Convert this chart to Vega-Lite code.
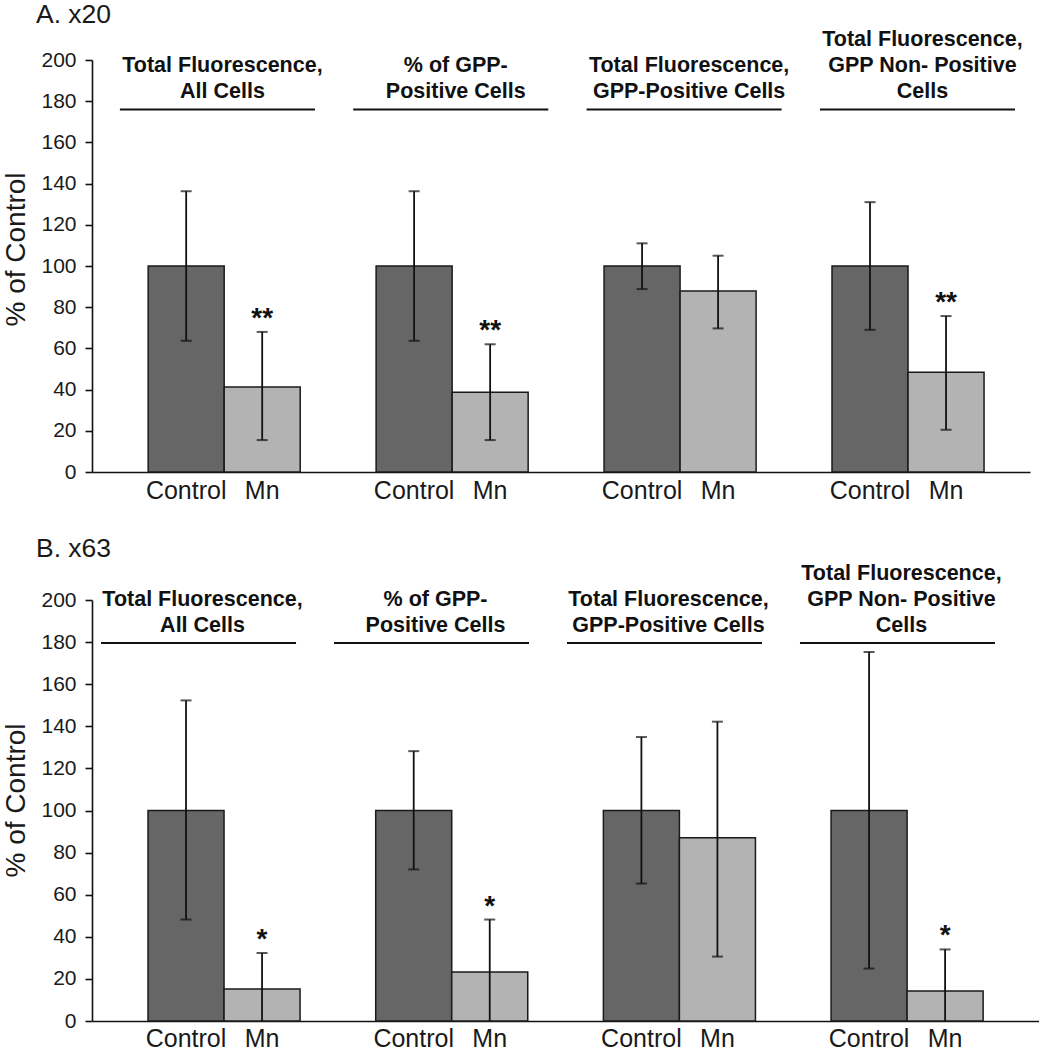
{
  "$schema": "https://vega.github.io/schema/vega-lite/v6.json",
  "background": "white",
  "padding": {"left": 2, "top": 2, "right": 0, "bottom": 0},
  "spacing": 32,
  "datasets": {
    "bars": [
      {"panel": "A", "group": "g1", "cond": "Control", "value": 100, "lo": 63.7, "hi": 136.3, "sig": ""},
      {"panel": "A", "group": "g1", "cond": "Mn", "value": 41.3, "lo": 15.5, "hi": 68, "sig": "**"},
      {"panel": "A", "group": "g2", "cond": "Control", "value": 100, "lo": 63.7, "hi": 136.3, "sig": ""},
      {"panel": "A", "group": "g2", "cond": "Mn", "value": 38.7, "lo": 15.5, "hi": 62, "sig": "**"},
      {"panel": "A", "group": "g3", "cond": "Control", "value": 100, "lo": 88.8, "hi": 111, "sig": ""},
      {"panel": "A", "group": "g3", "cond": "Mn", "value": 87.9, "lo": 69.7, "hi": 105, "sig": ""},
      {"panel": "A", "group": "g4", "cond": "Control", "value": 100, "lo": 69, "hi": 131, "sig": ""},
      {"panel": "A", "group": "g4", "cond": "Mn", "value": 48.4, "lo": 20.5, "hi": 75.7, "sig": "**"},
      {"panel": "B", "group": "g1", "cond": "Control", "value": 100, "lo": 48.2, "hi": 152.3, "sig": ""},
      {"panel": "B", "group": "g1", "cond": "Mn", "value": 15.2, "lo": 0, "hi": 32.3, "sig": "*"},
      {"panel": "B", "group": "g2", "cond": "Control", "value": 100, "lo": 72, "hi": 128.2, "sig": ""},
      {"panel": "B", "group": "g2", "cond": "Mn", "value": 23.3, "lo": 0, "hi": 48.2, "sig": "*"},
      {"panel": "B", "group": "g3", "cond": "Control", "value": 100, "lo": 65.3, "hi": 134.9, "sig": ""},
      {"panel": "B", "group": "g3", "cond": "Mn", "value": 87, "lo": 30.6, "hi": 142.2, "sig": ""},
      {"panel": "B", "group": "g4", "cond": "Control", "value": 100, "lo": 24.9, "hi": 175.3, "sig": ""},
      {"panel": "B", "group": "g4", "cond": "Mn", "value": 14.3, "lo": 0, "hi": 34, "sig": "*"}
    ],
    "headers": [
      {"group": "g1", "label": "\nTotal Fluorescence,\nAll Cells"},
      {"group": "g2", "label": "\n% of GPP-\nPositive Cells"},
      {"group": "g3", "label": "\nTotal Fluorescence,\nGPP-Positive Cells"},
      {"group": "g4", "label": "Total Fluorescence,\nGPP Non- Positive\nCells"}
    ]
  },
  "config": {
    "view": {"stroke": null},
    "font": "Liberation Sans",
    "title": {"anchor": "start", "frame": "bounds", "fontSize": 26.5, "fontWeight": "normal", "font": "Liberation Sans", "color": "#1a1a1a", "dx": 33},
    "axisY": {
      "grid": false, "domainColor": "#111", "domainWidth": 1.6, "tickColor": "#111", "tickWidth": 1.6, "tickSize": 7,
      "labelFont": "Liberation Sans", "labelFontSize": 21, "labelColor": "#1a1a1a", "labelPadding": 9,
      "titleFont": "Liberation Sans", "titleFontSize": 28, "titleFontWeight": "normal", "titleColor": "#1a1a1a", "titlePadding": 10
    }
  },
  "vconcat": [
    {
      "title": {"text": "A. x20", "offset": 0},
      "width": 938,
      "height": 412,
      "layer": [
        {
          "data": {"name": "bars"},
          "transform": [{"filter": "datum.panel === 'A'"}],
          "encoding": {
            "x": {"field": "group", "type": "nominal", "sort": ["g1", "g2", "g3", "g4"],
                  "scale": {"paddingInner": 0.333, "paddingOuter": 0.224, "align": 0.55},
                  "axis": {"labels": false, "ticks": false, "title": null, "domainColor": "#111", "domainWidth": 1.6}},
            "xOffset": {"field": "cond", "type": "nominal", "sort": ["Control", "Mn"], "scale": {"paddingInner": 0, "paddingOuter": 0}}
          },
          "layer": [
            {
              "mark": {"type": "bar", "stroke": "#1a1a1a", "strokeWidth": 1.5},
              "encoding": {
                "y": {"field": "value", "type": "quantitative", "scale": {"domain": [0, 200]},
                      "axis": {"values": [0, 20, 40, 60, 80, 100, 120, 140, 160, 180, 200], "title": "% of Control", "titleY": 189}},
                "color": {"field": "cond", "type": "nominal", "scale": {"domain": ["Control", "Mn"], "range": ["#666666", "#b3b3b3"]}, "legend": null}
              }
            },
            {
              "mark": {"type": "rule", "color": "#111", "strokeWidth": 1.8},
              "encoding": {"y": {"field": "lo", "type": "quantitative"}, "y2": {"field": "hi"}}
            },
            {
              "transform": [{"filter": "datum.lo > 0"}],
              "mark": {"type": "tick", "color": "#111", "thickness": 2, "size": 11},
              "encoding": {"y": {"field": "lo", "type": "quantitative"}}
            },
            {
              "mark": {"type": "tick", "color": "#111", "thickness": 2, "size": 11},
              "encoding": {"y": {"field": "hi", "type": "quantitative"}}
            },
            {
              "mark": {"type": "text", "fontSize": 28, "fontWeight": "bold", "baseline": "alphabetic", "dy": -5, "color": "#111"},
              "encoding": {"y": {"field": "hi", "type": "quantitative"}, "text": {"field": "sig"}}
            },
            {
              "mark": {"type": "text", "fontSize": 25, "baseline": "alphabetic", "dy": 27, "color": "#1a1a1a"},
              "encoding": {"y": {"datum": 0}, "text": {"field": "cond"}}
            }
          ]
        },
        {
          "data": {"name": "headers"},
          "encoding": {
            "x": {"field": "group", "type": "nominal", "sort": ["g1", "g2", "g3", "g4"],
                  "scale": {"paddingInner": 0.164, "paddingOuter": 0.092, "align": 0.65}, "axis": null}
          },
          "layer": [
            {
              "mark": {"type": "rule", "color": "#111", "strokeWidth": 2},
              "encoding": {
                "x": {"field": "group", "type": "nominal", "sort": ["g1", "g2", "g3", "g4"], "bandPosition": 0,
                      "scale": {"paddingInner": 0.164, "paddingOuter": 0.092, "align": 0.65}, "axis": null},
                "x2": {"field": "group", "bandPosition": 1},
                "y": {"datum": 176}
              }
            },
            {
              "mark": {"type": "text", "fontSize": 21.5, "fontWeight": "bold", "lineBreak": "\n", "lineHeight": 26, "baseline": "alphabetic", "dx": 5, "color": "#111"},
              "encoding": {"y": {"datum": 206.8}, "text": {"field": "label"}}
            }
          ]
        }
      ],
      "resolve": {"scale": {"x": "independent"}}
    },
    {
      "title": {"text": "B. x63", "offset": 0},
      "width": 948,
      "height": 421,
      "layer": [
        {
          "data": {"name": "bars"},
          "transform": [{"filter": "datum.panel === 'B'"}],
          "encoding": {
            "x": {"field": "group", "type": "nominal", "sort": ["g1", "g2", "g3", "g4"],
                  "scale": {"paddingInner": 0.3324, "paddingOuter": 0.248, "align": 0.496},
                  "axis": {"labels": false, "ticks": false, "title": null, "domainColor": "#111", "domainWidth": 1.6}},
            "xOffset": {"field": "cond", "type": "nominal", "sort": ["Control", "Mn"], "scale": {"paddingInner": 0, "paddingOuter": 0}}
          },
          "layer": [
            {
              "mark": {"type": "bar", "stroke": "#1a1a1a", "strokeWidth": 1.5},
              "encoding": {
                "y": {"field": "value", "type": "quantitative", "scale": {"domain": [0, 200]},
                      "axis": {"values": [0, 20, 40, 60, 80, 100, 120, 140, 160, 180, 200], "title": "% of Control", "titleY": 200}},
                "color": {"field": "cond", "type": "nominal", "scale": {"domain": ["Control", "Mn"], "range": ["#666666", "#b3b3b3"]}, "legend": null}
              }
            },
            {
              "mark": {"type": "rule", "color": "#111", "strokeWidth": 1.8},
              "encoding": {"y": {"field": "lo", "type": "quantitative"}, "y2": {"field": "hi"}}
            },
            {
              "transform": [{"filter": "datum.lo > 0"}],
              "mark": {"type": "tick", "color": "#111", "thickness": 2, "size": 11},
              "encoding": {"y": {"field": "lo", "type": "quantitative"}}
            },
            {
              "mark": {"type": "tick", "color": "#111", "thickness": 2, "size": 11},
              "encoding": {"y": {"field": "hi", "type": "quantitative"}}
            },
            {
              "mark": {"type": "text", "fontSize": 28, "fontWeight": "bold", "baseline": "alphabetic", "dy": -5, "color": "#111"},
              "encoding": {"y": {"field": "hi", "type": "quantitative"}, "text": {"field": "sig"}}
            },
            {
              "mark": {"type": "text", "fontSize": 25, "baseline": "alphabetic", "dy": 26, "color": "#1a1a1a"},
              "encoding": {"y": {"datum": 0}, "text": {"field": "cond"}}
            }
          ]
        },
        {
          "data": {"name": "headers"},
          "encoding": {
            "x": {"field": "group", "type": "nominal", "sort": ["g1", "g2", "g3", "g4"],
                  "scale": {"paddingInner": 0.163, "paddingOuter": 0.116, "align": 0.167}, "axis": null}
          },
          "layer": [
            {
              "mark": {"type": "rule", "color": "#111", "strokeWidth": 2},
              "encoding": {
                "x": {"field": "group", "type": "nominal", "sort": ["g1", "g2", "g3", "g4"], "bandPosition": 0,
                      "scale": {"paddingInner": 0.163, "paddingOuter": 0.116, "align": 0.167}, "axis": null},
                "x2": {"field": "group", "bandPosition": 1},
                "y": {"datum": 179.6}
              }
            },
            {
              "mark": {"type": "text", "fontSize": 21.5, "fontWeight": "bold", "lineBreak": "\n", "lineHeight": 26, "baseline": "alphabetic", "dx": 4, "color": "#111"},
              "encoding": {"y": {"datum": 209.6}, "text": {"field": "label"}}
            }
          ]
        }
      ],
      "resolve": {"scale": {"x": "independent"}}
    }
  ]
}
